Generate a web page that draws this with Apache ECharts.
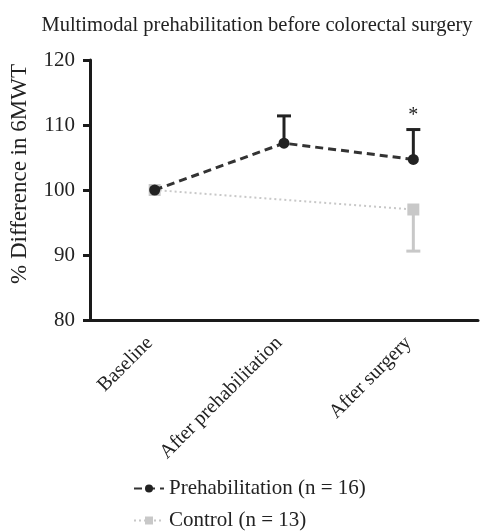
<!DOCTYPE html>
<html>
<head>
<meta charset="utf-8">
<script src="https://cdn.jsdelivr.net/npm/echarts@6/dist/echarts.min.js"></script>
<style>html,body{margin:0;padding:0;background:#fff}#c{width:485px;height:531px}</style>
</head>
<body>
<div id="c"></div>
<script>
var categories = ['Baseline', 'After prehabilitation', 'After surgery'];
var prehabValues = [100, 107.2, 104.7];
var prehabErrUpper = [null, 111.4, 109.3];
var prehabSignif = ['', '', '*'];
var controlValues = [100, null, 97.0];
var controlErrLower = [null, null, 90.6];
var yTicks = [80, 90, 100, 110, 120];

var FONT = '"Liberation Serif", "DejaVu Serif", serif';
var chart = echarts.init(document.getElementById('c'));

function errSeries(name, vals, ends, color, marks) {
  var data = [];
  for (var i = 0; i < vals.length; i++) {
    if (ends[i] != null && vals[i] != null) data.push([i, vals[i], ends[i], marks ? marks[i] : '']);
  }
  return {
    type: 'custom', name: name, z: 1,
    data: data,
    renderItem: function (params, api) {
      var x = api.value(0);
      var p0 = api.coord([x, api.value(1)]);
      var p1 = api.coord([x, api.value(2)]);
      var hw = 7;
      var children = [
        {type: 'line', shape: {x1: p0[0], y1: p0[1], x2: p1[0], y2: p1[1]}, style: {stroke: color, lineWidth: 3}},
        {type: 'line', shape: {x1: p1[0] - hw, y1: p1[1], x2: p1[0] + hw, y2: p1[1]}, style: {stroke: color, lineWidth: 3}}
      ];
      var m = api.value(3);
      if (m) {
        children.push({type: 'text', x: p1[0], y: p1[1] - 4, style: {text: m, fill: '#222', font: '20px ' + FONT, align: 'center', verticalAlign: 'bottom'}});
      }
      return {type: 'group', children: children};
    }
  };
}

chart.setOption({
  animation: false,
  title: {
    text: 'Multimodal prehabilitation before colorectal surgery',
    left: 252, top: 10, textAlign: 'center',
    textStyle: {fontFamily: FONT, fontSize: 20.5, fontWeight: 'normal', color: '#222'}
  },
  grid: {left: 88, right: 7, top: 60, bottom: 211},
  legend: {
    data: [
      {name: 'Prehabilitation (n = 16)'},
      {name: 'Control (n = 13)'}
    ],
    orient: 'vertical', left: 133, top: 478, itemGap: 11, padding: 0,
    height: 60,
    itemWidth: 30, itemHeight: 10,
    textStyle: {fontFamily: FONT, fontSize: 21, color: '#222'}
  },
  xAxis: {
    type: 'category', data: categories, boundaryGap: true,
    axisLine: {lineStyle: {color: '#1a1a1a', width: 3}},
    axisTick: {alignWithLabel: true, length: 7, lineStyle: {color: '#1a1a1a', width: 3}},
    axisLabel: {rotate: 45, margin: 15, padding: [0, 7, 0, 0], fontFamily: FONT, fontSize: 20, color: '#222', interval: 0}
  },
  yAxis: {
    type: 'value', min: 80, max: 120, interval: 10,
    name: '% Difference in 6MWT', nameLocation: 'middle', nameGap: 59,
    nameTextStyle: {fontFamily: FONT, fontSize: 23, color: '#222', padding: [0, 0, 0, 32]},
    axisLine: {show: true, lineStyle: {color: '#1a1a1a', width: 3}},
    axisTick: {show: true, length: 7, lineStyle: {color: '#1a1a1a', width: 3}},
    axisLabel: {fontFamily: FONT, fontSize: 21, color: '#222', margin: 15,
      formatter: function (v) { return yTicks.indexOf(v) >= 0 ? String(v) : ''; }},
    splitLine: {show: false}
  },
  series: [
    errSeries('prehabErr', prehabValues, prehabErrUpper, '#222', prehabSignif),
    errSeries('controlErr', controlValues, controlErrLower, '#c8c8c8', null),
    {
      name: 'Control (n = 13)', type: 'line', data: controlValues, connectNulls: true, z: 2,
      symbol: 'rect', symbolSize: 12, showAllSymbol: true,
      lineStyle: {color: '#c8c8c8', width: 2, type: [2, 3]},
      itemStyle: {color: '#c8c8c8'}
    },
    {
      name: 'Prehabilitation (n = 16)', type: 'line', data: prehabValues, z: 3,
      symbol: 'circle', symbolSize: 11,
      lineStyle: {color: '#333', width: 3, type: [8, 5]},
      itemStyle: {color: '#222'}
    }
  ]
});
</script>
</body>
</html>
